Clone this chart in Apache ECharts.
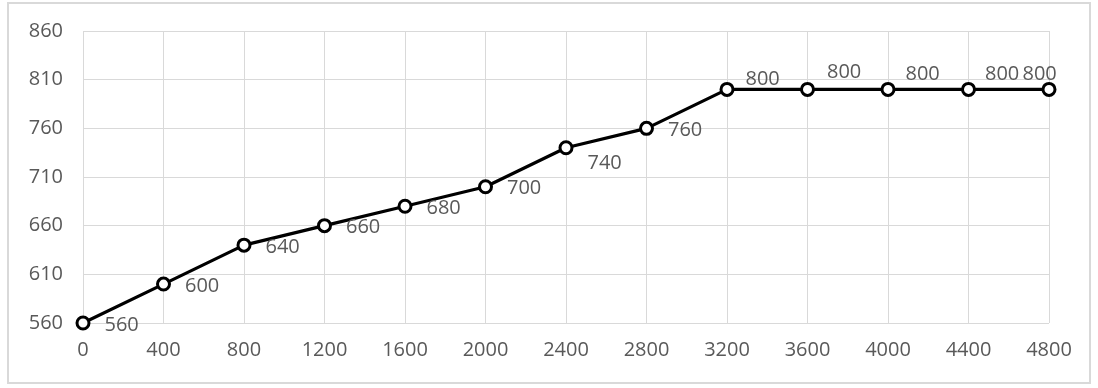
<!DOCTYPE html>
<html>
<head>
<meta charset="utf-8">
<script src="https://cdn.jsdelivr.net/npm/echarts@6/dist/echarts.min.js"></script>
<style>
html,body{margin:0;padding:0;background:#fff;}
#frame{position:absolute;left:7px;top:2px;width:1084px;height:382px;border:2px solid #d9d9d9;box-sizing:border-box;}
#chart{position:absolute;left:0;top:0;width:1098px;height:388px;}
</style>
</head>
<body>
<div id="frame"></div>
<div id="chart"></div>
<script>
const xValues = [0, 400, 800, 1200, 1600, 2000, 2400, 2800, 3200, 3600, 4000, 4400, 4800];
const yValues = [560, 600, 640, 660, 680, 700, 740, 760, 800, 800, 800, 800, 800];
const yTicks = [560, 610, 660, 710, 760, 810, 860];

// label placement tweaks per point index (style only)
const labelOffsets = {
  6: [0, 15],
  8: [-3, -10],
  9: [-2, -17],
  10: [-4, -15],
  11: [-5, -15],
  12: [-48, -15]
};

const data = xValues.map((x, i) => {
  const item = { value: [x, yValues[i]] };
  if (labelOffsets[i]) item.label = { offset: labelOffsets[i] };
  return item;
});

const chart = echarts.init(document.getElementById('chart'), null, { renderer: 'canvas' });
const font = '"Open Sans", "Liberation Sans", sans-serif';
chart.setOption({
  animation: false,
  grid: { left: 83, right: 49, top: 31, bottom: 65, containLabel: false },
  xAxis: {
    type: 'value', min: 0, max: 4800, interval: 400,
    axisLine: { show: false }, axisTick: { show: false },
    splitLine: { show: true, lineStyle: { color: '#d9d9d9', width: 1 } },
    axisLabel: { color: '#595959', fontSize: 20, fontFamily: font, margin: 17, formatter: v => String(v) }
  },
  yAxis: {
    type: 'value', min: yTicks[0], max: yTicks[yTicks.length - 1], interval: 50,
    axisLine: { show: false }, axisTick: { show: false },
    splitLine: { show: true, lineStyle: { color: '#d9d9d9', width: 1 } },
    axisLabel: { color: '#595959', fontSize: 20, fontFamily: font, margin: 20 }
  },
  series: [{
    type: 'line',
    data: data,
    lineStyle: { color: '#000', width: 3.2 },
    symbol: 'circle', symbolSize: 12,
    itemStyle: { color: '#fff', borderColor: '#000', borderWidth: 3 },
    label: {
      show: true, position: 'right', distance: 14,
      color: '#595959', fontSize: 20, fontFamily: font,
      offset: [0, 2],
      formatter: p => p.value[1]
    },
    z: 3
  }]
});
</script>
</body>
</html>
